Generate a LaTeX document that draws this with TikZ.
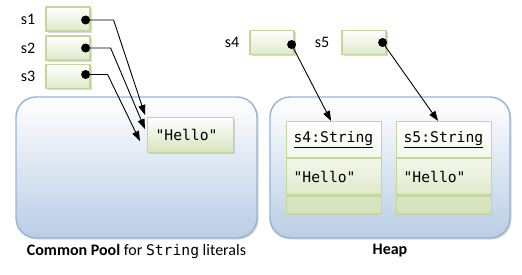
\documentclass[tikz,border=0pt]{standalone}
\usepackage{fontspec}
\setmainfont{Carlito}
\setmonofont{DejaVu Sans Mono}
\usetikzlibrary{arrows.meta, positioning, shadows, calc}
\definecolor{poolBlue}{HTML}{95B3D7}
\definecolor{poolFill}{HTML}{B9CDE5}
\definecolor{refGreen}{HTML}{C3D69B}
\definecolor{refFill}{HTML}{D7E4BD}
\newcommand{\codetext}[1]{{\fontsize{14.7}{17}\selectfont\ttfamily #1}}

\begin{document}
\begin{tikzpicture}[
    x=1pt, y=-1pt,
    every node/.style={font=\fontsize{16}{19}\selectfont},
    softshadow/.style={drop shadow={shadow xshift=1.5pt, shadow yshift=-1.5pt, opacity=0.3, fill=black!50}},
    area/.style={draw=poolBlue, line width=1.4pt, rounded corners=20pt,
      top color=white, bottom color=poolFill, softshadow, inner sep=0pt},
    refbox/.style={draw=refGreen, line width=1.2pt, top color=white, bottom color=refFill!80,
      minimum width=44pt, minimum height=24pt, inner sep=0pt, softshadow},
    valbox/.style={draw=refGreen, line width=1.2pt, top color=white, bottom color=refFill,
      text width=70pt, inner xsep=8pt, minimum height=35pt, align=left, softshadow},
    objpart/.style={draw=refGreen, line width=1.2pt, text width=81pt, inner xsep=7pt,
      inner ysep=0pt, align=left},
    dot/.style={circle, fill=black, inner sep=0pt, minimum size=9pt},
    link/.style={line width=0.9pt, -{Triangle[length=10pt, width=7pt]}}
  ]
  \useasboundingbox (0,0) rectangle (522,274);

  % ── Common pool (left) ──────────────────────────────────────────────────
  \node[area, minimum width=241pt, minimum height=141pt] (pool) at (136.5,167.5) {};
  \node[below=2pt of pool] (poollabel)
    {\textbf{Common Pool} for \codetext{String} literals};

  \node[valbox, anchor=north west] (hello) at (147,117) {\codetext{"Hello"}};

  % References s1, s2, s3
  \node[refbox] (s1box) at (68,19) {};
  \node[refbox] (s2box) at (68,48) {};
  \node[refbox] (s3box) at (68,76.5) {};
  \node[left=10pt of s1box, inner sep=0pt] (s1lbl) {s1};
  \node[left=10pt of s2box, inner sep=0pt] (s2lbl) {s2};
  \node[left=10pt of s3box, inner sep=0pt] (s3lbl) {s3};
  \node[dot] (d1) at ($(s1box.east)+(-5,1)$) {};
  \node[dot] (d2) at ($(s2box.east)+(-5,0)$) {};
  \node[dot] (d3) at ($(s3box.east)+(-5,-2)$) {};

  \draw[link] (d1.center) -- ++(28,0) -- ($(hello.north west)+(-2,-2)$);
  \draw[link] (d2.center) -- ++(25,0) -- ($(hello.west)+(-2,-6)$);
  \draw[link] (d3.center) -- ++(22,0) -- ($(hello.west)+(-7,6)$);

  % ── Heap (right) ────────────────────────────────────────────────────────
  \node[area, minimum width=240pt, minimum height=141pt] (heap) at (390,167.5) {};
  \node[below=2pt of heap] (heaplabel) {\textbf{Heap}};

  % String objects: title, value, empty part
  \node[objpart, anchor=north west, minimum height=36pt, top color=white,
    bottom color=refFill!30] (o4top) at (286,121) {\codetext{\underline{s4:String}}};
  \node[objpart, below=0pt of o4top, minimum height=36pt, top color=refFill!30,
    bottom color=refFill!80] (o4val) {\codetext{"Hello"}};
  \node[objpart, below=0pt of o4val, minimum height=18pt, fill=refFill] (o4end) {};

  \node[objpart, anchor=north west, minimum height=36pt, top color=white,
    bottom color=refFill!30] (o5top) at (396,121) {\codetext{\underline{s5:String}}};
  \node[objpart, below=0pt of o5top, minimum height=36pt, top color=refFill!30,
    bottom color=refFill!80] (o5val) {\codetext{"Hello"}};
  \node[objpart, below=0pt of o5val, minimum height=18pt, fill=refFill] (o5end) {};

  % References s4, s5
  \node[refbox] (s4box) at (272,42.5) {};
  \node[refbox] (s5box) at (364,42.5) {};
  \node[left=10pt of s4box, inner sep=0pt] (s4lbl) {s4};
  \node[left=12pt of s5box, inner sep=0pt] (s5lbl) {s5};
  \node[dot] (d4) at ($(s4box.east)+(-3,2)$) {};
  \node[dot] (d5) at ($(s5box.east)+(-4,0)$) {};

  \draw[link] (d4.center) -- ($(o4top.north)+(-3,0)$);
  \draw[link] (d5.center) -- ($(o5top.north)+(-6,0)$);

\end{tikzpicture}
\end{document}
